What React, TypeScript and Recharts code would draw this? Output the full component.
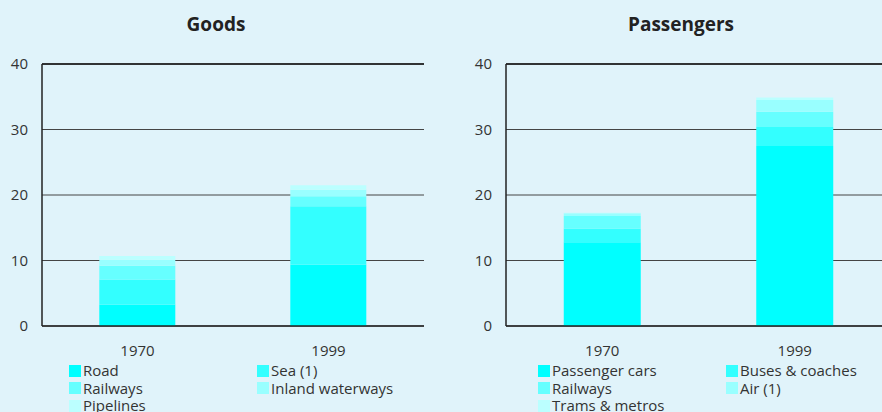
import React from 'react';
import {
  BarChart,
  Bar,
  XAxis,
  YAxis,
  CartesianGrid,
  ReferenceLine,
  Legend,
} from 'recharts';

// Categories and axis ticks
const years = ['1970', '1999'];
const yTicks = [0, 10, 20, 30, 40];

// Goods transport by mode (stacked, bottom to top)
const road = [3.3, 9.4];
const sea = [3.8, 8.9];
const goodsRailways = [2.1, 1.5];
const inlandWaterways = [0.9, 1.0];
const pipelines = [0.6, 0.7];

// Passenger transport by mode (stacked, bottom to top)
const passengerCars = [12.8, 27.5];
const busesCoaches = [2.1, 2.9];
const passengerRailways = [1.9, 2.3];
const air = [0.4, 1.8];
const tramsMetros = [0.1, 0.4];

// Series names as shown in the legends
const goodsNames = ['Road', 'Sea (1)', 'Railways', 'Inland waterways', 'Pipelines'];
const passengerNames = ['Passenger cars', 'Buses & coaches', 'Railways', 'Air (1)', 'Trams & metros'];

const palette = ['#00FFFF', '#33FFFF', '#66FFFF', '#99FFFF', '#BBFFFF'];

const FONT = '"Open Sans", "Noto Sans", sans-serif';
const BG = '#E0F3FA';

type Series = { key: string; name: string; values: number[] };

const goodsSeries: Series[] = [
  { key: 'road', name: goodsNames[0], values: road },
  { key: 'sea', name: goodsNames[1], values: sea },
  { key: 'rail', name: goodsNames[2], values: goodsRailways },
  { key: 'inland', name: goodsNames[3], values: inlandWaterways },
  { key: 'pipe', name: goodsNames[4], values: pipelines },
];

const passengerSeries: Series[] = [
  { key: 'cars', name: passengerNames[0], values: passengerCars },
  { key: 'buses', name: passengerNames[1], values: busesCoaches },
  { key: 'rail', name: passengerNames[2], values: passengerRailways },
  { key: 'air', name: passengerNames[3], values: air },
  { key: 'trams', name: passengerNames[4], values: tramsMetros },
];

function buildRows(series: Series[]) {
  return years.map((year, i) => {
    const row: Record<string, string | number> = { year };
    series.forEach((s) => {
      row[s.key] = s.values[i];
    });
    return row;
  });
}

function LegendGrid({ series }: { series: Series[] }) {
  return (
    <div
      style={{
        display: 'grid',
        gridTemplateColumns: '188px 188px',
        gridAutoRows: '17.6px',
        fontFamily: FONT,
        fontSize: 15,
        color: '#333',
      }}
    >
      {series.map((s, i) => (
        <div key={s.key} style={{ display: 'flex', alignItems: 'center', whiteSpace: 'nowrap' }}>
          <span
            style={{
              display: 'inline-block',
              width: 12,
              height: 12,
              background: palette[i],
              marginRight: 2,
            }}
          />
          <span style={{ lineHeight: '17.6px' }}>{s.name}</span>
        </div>
      ))}
    </div>
  );
}

type PanelProps = {
  series: Series[];
  width: number;
  yAxisWidth: number;
  rightMargin: number;
  legendLeft: number;
};

function Panel({ series, width, yAxisWidth, rightMargin, legendLeft }: PanelProps) {
  const rows = buildRows(series);
  return (
    <BarChart
      width={width}
      height={412}
      data={rows}
      margin={{ top: 64, right: rightMargin, bottom: 56, left: 0 }}
      barCategoryGap="30%"
    >
      <CartesianGrid vertical={false} stroke="#444" strokeWidth={1} />
      <XAxis
        dataKey="year"
        height={30}
        tickLine={false}
        tickSize={0}
        tickMargin={19}
        axisLine={{ stroke: '#222', strokeWidth: 1.5 }}
        tick={{ fill: '#333', fontSize: 15, fontFamily: FONT }}
      />
      <YAxis
        domain={[0, 40]}
        ticks={yTicks}
        width={yAxisWidth}
        tickLine={false}
        tickSize={0}
        tickMargin={14}
        axisLine={{ stroke: '#222', strokeWidth: 1.5 }}
        tick={{ fill: '#333', fontSize: 15, fontFamily: FONT }}
        interval={0}
      />
      <YAxis
        yAxisId="border"
        orientation="right"
        domain={[0, 40]}
        width={0}
        tick={false}
        tickLine={false}
        axisLine={{ stroke: '#111', strokeWidth: 1.2 }}
      />
      <ReferenceLine y={40} stroke="#111" strokeWidth={1.5} />
      {series.map((s, i) => (
        <Bar
          key={s.key}
          dataKey={s.key}
          name={s.name}
          stackId="total"
          fill={palette[i]}
          isAnimationActive={false}
        />
      ))}
      <Legend
        layout="horizontal"
        verticalAlign="middle"
        align="center"
        wrapperStyle={{ position: 'absolute', left: legendLeft, top: 362, width: 380 }}
        content={() => <LegendGrid series={series} />}
      />
    </BarChart>
  );
}

const titleStyle: React.CSSProperties = {
  position: 'absolute',
  top: 10,
  width: 200,
  textAlign: 'center',
  fontFamily: FONT,
  fontWeight: 700,
  fontSize: 19,
  lineHeight: '28px',
  color: '#222',
};

export default function App() {
  return (
    <div
      style={{
        position: 'absolute',
        left: 0,
        top: 0,
        width: 882,
        height: 412,
        overflow: 'hidden',
        background: BG,
      }}
    >
      <div style={{ ...titleStyle, left: 216 - 100 }}>Goods</div>
      <div style={{ ...titleStyle, left: 681 - 100 }}>Passengers</div>
      <div style={{ position: 'absolute', left: 0, top: 0 }}>
        <Panel series={goodsSeries} width={441} yAxisWidth={42} rightMargin={17} legendLeft={69} />
      </div>
      <div style={{ position: 'absolute', left: 441, top: 0 }}>
        <Panel series={passengerSeries} width={460} yAxisWidth={65} rightMargin={10} legendLeft={97} />
      </div>
    </div>
  );
}
